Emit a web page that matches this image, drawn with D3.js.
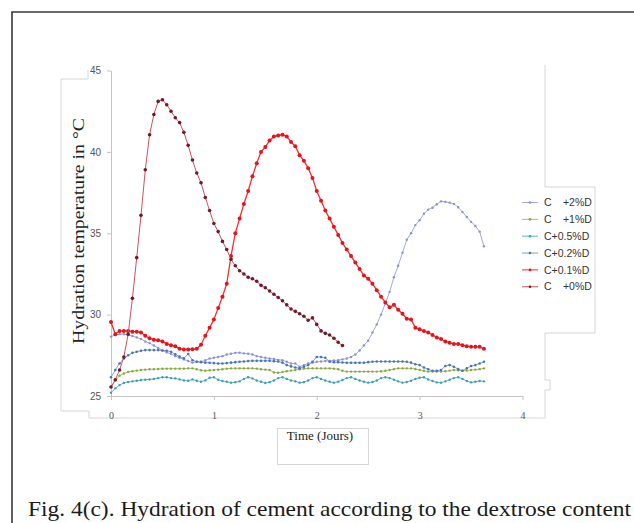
<!DOCTYPE html>
<html>
<head>
<meta charset="utf-8">
<script src="https://cdn.jsdelivr.net/npm/d3@7"></script>
<style>
  html, body { margin: 0; padding: 0; background: #fff; }
  svg { display: block; }
</style>
</head>
<body>
<svg id="chart" width="634" height="523"></svg>
<script>
// ---------------- DATA ----------------
const hours = [0,1,2,3,4,5,6,7,8,9,10,11,12,13,14,15,16,17,18,19,20,21,22,23,24,25,26,27,28,29,
  30,31,32,33,34,35,36,37,38,39,40,41,42,43,44,45,46,47,48,49,50,51,52,53,54,55,56,57,58,59,
  60,61,62,63,64,65,66,67,68,69,70,71,72,73,74,75,76,77,78,79,80,81,82,83,84,85,86,87];

const xTickHours = [0, 24, 48, 72, 96];
const xTickLabels = ["0", "1", "2", "3", "4"];
const yTicks = [25, 30, 35, 40, 45];

const seriesNames = ["C +2%D", "C +1%D", "C+0.5%D", "C+0.2%D", "C+0.1%D", "C +0%D"];

const c2 = [28.65,28.75,28.8,28.8,28.75,28.68,28.6,28.5,28.35,28.25,
  28.1,27.95,27.8,27.68,27.58,27.45,27.35,27.25,27.15,27.05,
  27.1,27.1,27.2,27.3,27.35,27.4,27.45,27.55,27.6,27.65,
  27.66,27.62,27.6,27.55,27.45,27.4,27.35,27.3,27.28,27.22,
  27.2,27.1,27.0,27.0,26.8,26.9,27.0,27.05,27.1,27.12,
  27.15,27.16,27.18,27.2,27.25,27.3,27.4,27.55,27.8,28.1,
  28.4,28.9,29.4,30.0,30.7,31.4,32.3,33.0,33.8,34.6,
  35.0,35.5,35.8,36.2,36.45,36.57,36.78,36.96,36.93,36.88,
  36.8,36.6,36.3,36.0,35.7,35.45,35.1,34.2];

const c1 = [25.55,25.95,26.25,26.38,26.48,26.52,26.56,26.6,26.62,26.64,
  26.65,26.66,26.67,26.68,26.68,26.68,26.68,26.68,26.7,26.7,
  26.64,26.58,26.55,26.58,26.6,26.62,26.64,26.68,26.7,26.7,
  26.7,26.7,26.7,26.7,26.68,26.64,26.62,26.6,26.45,26.43,
  26.48,26.52,26.56,26.6,26.64,26.68,26.7,26.7,26.7,26.7,
  26.7,26.7,26.68,26.64,26.55,26.5,26.5,26.5,26.5,26.5,
  26.5,26.5,26.5,26.52,26.55,26.6,26.65,26.7,26.7,26.7,
  26.7,26.66,26.6,26.55,26.5,26.5,26.5,26.5,26.52,26.56,
  26.6,26.58,26.55,26.56,26.6,26.62,26.65,26.7];

const c05 = [25.2,25.47,25.67,25.8,25.86,25.9,25.94,25.98,26.0,26.02,
  26.05,26.1,26.15,26.15,26.1,26.08,26.02,25.96,25.94,26.02,
  25.94,25.88,25.96,26.12,26.15,26.0,25.92,25.88,25.82,25.85,
  25.9,26.05,26.15,26.08,25.95,25.88,25.8,25.85,25.95,26.1,
  26.15,26.05,25.95,25.9,25.82,25.85,25.95,26.1,26.15,26.05,
  25.95,25.88,25.82,25.88,25.98,26.1,26.15,26.05,25.95,25.88,
  25.82,25.86,25.95,26.1,26.15,26.1,26.0,25.9,25.82,25.86,
  25.94,26.05,26.12,26.15,26.02,25.92,25.84,25.82,25.9,26.0,
  26.1,26.15,26.05,25.92,25.84,25.88,25.92,25.9];

const c02 = [26.15,26.6,27.0,27.3,27.5,27.65,27.72,27.78,27.82,27.82,
  27.82,27.82,27.8,27.78,27.72,27.56,27.42,27.32,27.58,27.2,
  27.1,27.08,27.05,27.04,27.02,27.0,27.0,27.02,27.05,27.08,
  27.1,27.12,27.15,27.16,27.16,27.16,27.16,27.16,27.14,27.12,
  27.05,26.9,26.82,26.75,26.7,26.8,26.9,27.1,27.4,27.4,
  27.35,27.1,27.08,27.08,27.06,27.04,27.04,27.04,27.04,27.04,
  27.08,27.1,27.12,27.12,27.12,27.12,27.12,27.12,27.12,27.1,
  27.05,26.95,26.9,26.75,26.64,26.55,26.55,26.6,26.84,26.9,
  26.8,26.65,26.55,26.7,26.84,26.9,27.0,27.1];

const c01 = [29.55,28.8,29.0,29.0,29.0,28.95,28.95,28.9,28.7,28.55,
  28.45,28.42,28.35,28.2,28.12,28.05,27.9,27.86,27.86,27.88,
  27.9,28.15,28.7,29.2,29.7,30.4,31.1,31.9,33.6,35.0,
  35.9,36.8,37.6,38.5,39.3,40.0,40.3,40.7,40.95,41.0,
  41.05,40.95,40.6,40.35,39.8,39.45,39.0,38.4,37.6,37.0,
  36.4,35.9,35.4,34.9,34.4,34.0,33.6,33.2,32.8,32.4,
  32.2,31.9,31.5,31.1,30.75,30.45,30.6,30.3,30.05,29.75,
  29.7,29.2,29.1,29.0,28.9,28.75,28.6,28.5,28.35,28.27,
  28.2,28.2,28.12,28.05,28.03,28.02,28.02,27.9];

const c0 = [25.55,26.0,26.6,27.4,28.8,31.0,33.5,36.1,38.9,41.05,
  42.3,43.1,43.2,42.9,42.5,42.1,41.8,41.2,40.4,39.5,
  38.7,38.1,37.2,36.4,35.6,35.1,34.5,34.0,33.4,33.0,
  32.7,32.5,32.3,32.2,32.05,31.8,31.65,31.45,31.25,31.05,
  30.85,30.6,30.35,30.2,30.05,29.9,29.65,29.8,29.4,29.0,
  28.85,28.75,28.55,28.3,28.1];

const seriesValues = [c2, c1, c05, c02, c01, c0];

// ---------------- STYLE ----------------
const lineColors   = ["#a4a9e2", "#a9c56a", "#5fb7c9", "#7c9fd6", "#ff2b2b", "#d2505a"];
const markerColors = ["#8b91d4", "#86a83c", "#3a9eb4", "#4a73b8", "#e8121a", "#6e1a2a"];
const markerR      = [1.2, 1.2, 1.2, 1.3, 2.0, 1.8];
const lineW        = [1, 1, 1, 1, 1.3, 1];

const svg = d3.select("#chart");
svg.append("rect").attr("width", 634).attr("height", 523).attr("fill", "#fff");

// Faint outline of the pasted chart area
svg.append("path")
  .attr("d", "M88,70 V79 H61 V411 H89 V418 H545 V390 H550 V380 H545 V333 H595 V187 H545 V65")
  .attr("fill", "none").attr("stroke", "#d6d6d6").attr("stroke-width", 1);

// Outer frame (top and left visible)
svg.append("path")
  .attr("d", "M12,523 V12 H634")
  .attr("fill", "none").attr("stroke", "#3a3a3a").attr("stroke-width", 1.6);

// Scales
const x = d3.scaleLinear().domain([0, 96]).range([111, 522.5]);
const y = d3.scaleLinear().domain([25, 45]).range([396, 70.5]);

// Axes
const yAxis = d3.axisLeft(y).tickValues(yTicks).tickSize(4).tickSizeOuter(0).tickPadding(6);
const gy = svg.append("g").attr("transform", "translate(111,0)").call(yAxis);
gy.selectAll("path, line").attr("stroke", "#c4c4c4");
gy.selectAll("text").attr("font-family", "'Liberation Sans', Arial, sans-serif")
  .attr("font-size", 10).attr("fill", "#555");

const xAxis = d3.axisBottom(x).tickValues(xTickHours)
  .tickFormat((d, i) => xTickLabels[i]).tickSize(4).tickSizeOuter(0).tickPadding(12);
const gx = svg.append("g").attr("transform", "translate(0,396)").call(xAxis);
gx.selectAll("path, line").attr("stroke", "#c4c4c4");
gx.selectAll("text").attr("font-family", "'Liberation Serif', 'Times New Roman', serif")
  .attr("font-size", 10).attr("fill", "#555");

// Series
const line = d3.line().x((d, i) => x(hours[i])).y(d => y(d));
seriesValues.forEach((vals, s) => {
  const g = svg.append("g");
  g.append("path").datum(vals)
    .attr("d", line).attr("fill", "none")
    .attr("stroke", lineColors[s]).attr("stroke-width", lineW[s]);
  g.selectAll("circle").data(vals).enter().append("circle")
    .attr("cx", (d, i) => x(hours[i])).attr("cy", d => y(d))
    .attr("r", markerR[s]).attr("fill", markerColors[s]);
});

// Axis titles
svg.append("text")
  .attr("transform", "translate(83.5,231) rotate(-90)")
  .attr("text-anchor", "middle")
  .attr("font-family", "'Liberation Serif', 'Times New Roman', serif")
  .attr("font-size", 16).attr("fill", "#222")
  .attr("textLength", 226).attr("lengthAdjust", "spacingAndGlyphs")
  .text("Hydration temperature in °C");

svg.append("rect").attr("x", 277.5).attr("y", 428.5).attr("width", 91).attr("height", 36)
  .attr("fill", "none").attr("stroke", "#d6d6d6");
svg.append("text")
  .attr("x", 320).attr("y", 439.5).attr("text-anchor", "middle")
  .attr("font-family", "'Liberation Serif', 'Times New Roman', serif")
  .attr("font-size", 13).attr("fill", "#222")
  .text("Time (Jours)");

// Legend
const legend = svg.append("g");
seriesNames.forEach((name, s) => {
  const ly = 202.5 + s * 16.85;
  legend.append("line").attr("x1", 522).attr("x2", 538).attr("y1", ly).attr("y2", ly)
    .attr("stroke", lineColors[s]).attr("stroke-width", 1);
  legend.append("circle").attr("cx", 530).attr("cy", ly).attr("r", 1.3).attr("fill", markerColors[s]);
  const t = legend.append("text").attr("y", ly).attr("dy", "0.35em")
    .attr("font-family", "'Liberation Sans', Arial, sans-serif")
    .attr("font-size", 10.5).attr("fill", "#333");
  const parts = name.split(" ");
  if (parts.length === 2) {
    t.append("tspan").attr("x", 544).text(parts[0]);
    t.append("tspan").attr("x", 560).text(" " + parts[1]);
  } else {
    t.append("tspan").attr("x", 544).text(name);
  }
});

// Caption
svg.append("text")
  .attr("x", 28).attr("y", 516)
  .attr("font-family", "'Palatino Linotype', 'Book Antiqua', 'Liberation Serif', serif")
  .attr("font-size", 21).attr("fill", "#1a1a1a")
  .attr("textLength", 603).attr("lengthAdjust", "spacingAndGlyphs")
  .text("Fig. 4(c). Hydration of cement according to the dextrose content");
</script>
</body>
</html>
